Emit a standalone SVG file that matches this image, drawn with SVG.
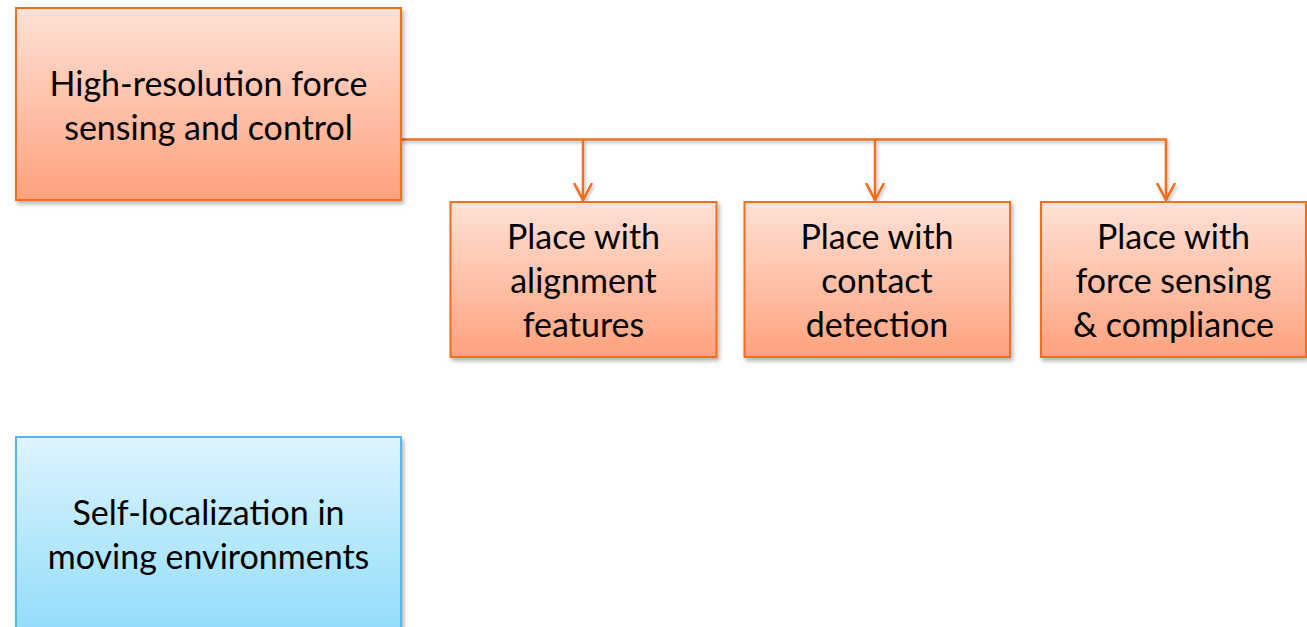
<svg xmlns="http://www.w3.org/2000/svg" width="1307" height="627" viewBox="0 0 1307 627">
  <defs>
    <linearGradient id="gOrange" x1="0" y1="0" x2="0" y2="1">
      <stop offset="0" stop-color="#FFE1D6"/>
      <stop offset="1" stop-color="#FFA27E"/>
    </linearGradient>
    <linearGradient id="gBlue" x1="0" y1="0" x2="0" y2="1">
      <stop offset="0" stop-color="#DDF4FE"/>
      <stop offset="1" stop-color="#8CDBFA"/>
    </linearGradient>
    <filter id="shadow" x="-5%" y="-5%" width="115%" height="120%">
      <feDropShadow dx="2" dy="3" stdDeviation="2" flood-color="#000" flood-opacity="0.3"/>
    </filter>
    <filter id="lineShadow" filterUnits="userSpaceOnUse" x="0" y="0" width="1307" height="627">
      <feDropShadow dx="1.5" dy="2.5" stdDeviation="1.5" flood-color="#000" flood-opacity="0.25"/>
    </filter>
    <marker id="arrow" viewBox="0 0 18 20" refX="17" refY="10" markerWidth="18" markerHeight="20" markerUnits="userSpaceOnUse" orient="auto">
      <path d="M0,1 L17,10 L0,19" fill="none" stroke="#F26D1F" stroke-width="2.5"/>
    </marker>
  </defs>
  <style>
    .orange { fill: url(#gOrange); stroke: #F26D1F; stroke-width: 2; filter: url(#shadow); }
    .blue { fill: url(#gBlue); stroke: #5AB5EA; stroke-width: 2; filter: url(#shadow); }
    .label { font-family: Lato, "Open Sans", "Liberation Sans", sans-serif; font-size: 34px; fill: #000; text-anchor: middle; }
    .conn { fill: none; stroke: #F26D1F; stroke-width: 2.5; }
  </style>
  <rect width="1307" height="627" fill="#fff"/>

  <g id="connectors" filter="url(#lineShadow)">
    <path class="conn" d="M401,139.5 H1166 V200" marker-end="url(#arrow)"/>
    <path class="conn" d="M583,139.5 V200" marker-end="url(#arrow)"/>
    <path class="conn" d="M875,139.5 V200" marker-end="url(#arrow)"/>
  </g>

  <g id="node-force">
    <rect class="orange" x="16" y="8" width="385" height="192"/>
    <text class="label" x="208.5" y="96">High-resolution force</text>
    <text class="label" x="208.5" y="140">sensing and control</text>
  </g>

  <g id="node-alignment">
    <rect class="orange" x="450.5" y="202" width="266" height="155"/>
    <text class="label" x="583.5" y="249">Place with</text>
    <text class="label" x="583.5" y="293">alignment</text>
    <text class="label" x="583.5" y="337">features</text>
  </g>

  <g id="node-contact">
    <rect class="orange" x="744.5" y="202" width="265.5" height="155"/>
    <text class="label" x="877" y="249">Place with</text>
    <text class="label" x="877" y="293">contact</text>
    <text class="label" x="877" y="337">detection</text>
  </g>

  <g id="node-compliance">
    <rect class="orange" x="1041" y="202" width="265" height="155"/>
    <text class="label" x="1173.5" y="249">Place with</text>
    <text class="label" x="1173.5" y="293">force sensing</text>
    <text class="label" x="1173.5" y="337">&amp; compliance</text>
  </g>

  <g id="node-localization">
    <rect class="blue" x="16" y="437" width="385" height="210"/>
    <text class="label" x="208.5" y="525">Self-localization in</text>
    <text class="label" x="208.5" y="569">moving environments</text>
  </g>
</svg>
